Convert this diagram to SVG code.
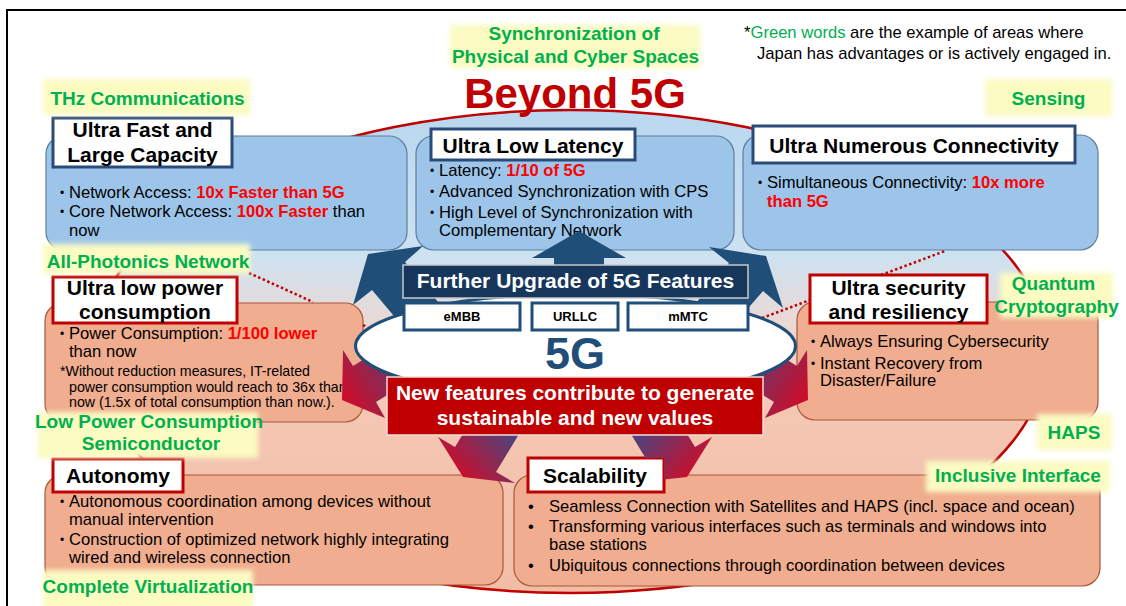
<svg xmlns="http://www.w3.org/2000/svg" width="1126" height="606" viewBox="0 0 1126 606">
<defs>
<linearGradient id="bg" x1="0" y1="0" x2="0" y2="1">
<stop offset="0" stop-color="#b9d7ef"/>
<stop offset="0.3" stop-color="#cde2f1"/>
<stop offset="0.45" stop-color="#ecd8d2"/>
<stop offset="0.62" stop-color="#f4c7b4"/>
<stop offset="1" stop-color="#f2bda5"/>
</linearGradient>
<linearGradient id="gUL" gradientUnits="userSpaceOnUse" x1="425" y1="340" x2="345" y2="392"><stop offset="0" stop-color="#2f4f8f"/><stop offset="1" stop-color="#c8102e"/></linearGradient>
<linearGradient id="gUR" gradientUnits="userSpaceOnUse" x1="725" y1="340" x2="805" y2="392"><stop offset="0" stop-color="#2f4f8f"/><stop offset="1" stop-color="#c8102e"/></linearGradient>
<linearGradient id="gLL" gradientUnits="userSpaceOnUse" x1="520" y1="420" x2="462" y2="476"><stop offset="0" stop-color="#2f4f8f"/><stop offset="1" stop-color="#c8102e"/></linearGradient>
<linearGradient id="gLR" gradientUnits="userSpaceOnUse" x1="630" y1="420" x2="688" y2="476"><stop offset="0" stop-color="#2f4f8f"/><stop offset="1" stop-color="#c8102e"/></linearGradient>
<filter id="glow" x="-20%" y="-40%" width="140%" height="180%"><feGaussianBlur stdDeviation="2.5"/></filter>
<style>
text{font-family:"Liberation Sans",Arial,sans-serif}
.t{font-size:21px;font-weight:bold;fill:#000;text-anchor:middle}
.ts{font-size:21px;font-weight:bold;fill:#000}
.b{font-size:16.6px;fill:#000}
.s{font-size:14.2px;fill:#000}
.bu{font-size:12px;fill:#000}
.r{font-weight:bold;fill:#ff0000}
.g{font-size:19px;font-weight:bold;fill:#00b050;text-anchor:middle}
.hl{fill:#fbfbc2;filter:url(#glow)}
.blue{fill:#9cc5e9;stroke:#5f7e9e;stroke-width:1.2}
.peach{fill:#f0ad8f;stroke:#a9573a;stroke-width:1.2}
.tb{fill:#fff;stroke:#2b4a78;stroke-width:3}
.tr{fill:#fff;stroke:#c00000;stroke-width:3}
.dot{fill:none;stroke:#c00000;stroke-width:2.5;stroke-dasharray:2.5 2.5}
.barrow{fill:#1f4e79}
.sm{fill:#fff;stroke:#1f4e79;stroke-width:3}
.smt{font-size:13px;font-weight:bold;fill:#000;text-anchor:middle}
</style>
</defs>
<rect width="1126" height="606" fill="#fff"/>
<rect x="7" y="10" width="1130" height="610" fill="none" stroke="#000" stroke-width="2"/>

<g id="beyond5g-area">
<ellipse cx="570" cy="351.5" rx="477" ry="241.5" fill="url(#bg)" stroke="#c00000" stroke-width="2.5"/>
<text x="575" y="108" font-size="42" font-weight="bold" fill="#c00000" text-anchor="middle">Beyond 5G</text>
</g>

<g id="note">
<text x="744" y="38" font-size="16.6">*<tspan fill="#00b050">Green words</tspan> are the example of areas where</text>
<text x="757" y="59" font-size="16.6">Japan has advantages or is actively engaged in.</text>
</g>

<g id="node-ultra-fast">
<rect class="blue" x="46" y="136" width="361" height="114" rx="18"/>
<rect class="tb" x="53" y="118" width="179" height="49"/>
<text class="t" x="142.5" y="137">Ultra Fast and</text>
<text class="t" x="142.5" y="162">Large Capacity</text>
<text class="bu" x="60" y="197">•</text>
<text class="b" x="69" y="198">Network Access: <tspan class="r">10x Faster than 5G</tspan></text>
<text class="bu" x="60" y="216">•</text>
<text class="b" x="69" y="217">Core Network Access: <tspan class="r">100x Faster</tspan> than</text>
<text class="b" x="69" y="236">now</text>
</g>

<g id="node-ultra-low-latency">
<rect class="blue" x="416" y="136" width="318" height="114" rx="18"/>
<rect class="tb" x="431" y="129" width="204" height="31"/>
<text class="t" x="533" y="153">Ultra Low Latency</text>
<text class="bu" x="430" y="175">•</text>
<text class="b" x="439" y="176">Latency: <tspan class="r">1/10 of 5G</tspan></text>
<text class="bu" x="430" y="196">•</text>
<text class="b" x="439" y="197">Advanced Synchronization with CPS</text>
<text class="bu" x="430" y="217">•</text>
<text class="b" x="439" y="218">High Level of Synchronization with</text>
<text class="b" x="439" y="236">Complementary Network</text>
</g>

<g id="node-ultra-numerous">
<rect class="blue" x="743" y="135" width="355" height="115" rx="18"/>
<rect class="tb" x="753" y="126" width="322" height="37"/>
<text class="t" x="914" y="153">Ultra Numerous Connectivity</text>
<text class="bu" x="758" y="187">•</text>
<text class="b" x="767" y="188">Simultaneous Connectivity: <tspan class="r">10x more</tspan></text>
<text class="b r" x="767" y="207">than 5G</text>
</g>

<g id="node-low-power">
<rect class="peach" x="45" y="303" width="318" height="119" rx="18"/>
<rect class="tr" x="53" y="277" width="184" height="46"/>
<text class="t" x="145" y="295">Ultra low power</text>
<text class="t" x="145" y="319">consumption</text>
<text class="bu" x="60" y="338">•</text>
<text class="b" x="69" y="339">Power Consumption: <tspan class="r">1/100 lower</tspan></text>
<text class="b" x="69" y="357">than now</text>
<text class="s" x="60" y="376">*Without reduction measures, IT-related</text>
<text class="s" x="69" y="392">power consumption would reach to 36x than</text>
<text class="s" x="69" y="407">now (1.5x of total consumption than now.).</text>
</g>

<g id="node-security">
<rect class="peach" x="797" y="302" width="301" height="118" rx="18"/>
<rect class="tr" x="810" y="275" width="177" height="48"/>
<text class="t" x="898.5" y="295">Ultra security</text>
<text class="t" x="898.5" y="319">and resiliency</text>
<text class="bu" x="811" y="346">•</text>
<text class="b" x="820" y="347">Always Ensuring Cybersecurity</text>
<text class="bu" x="811" y="368">•</text>
<text class="b" x="820" y="369">Instant Recovery from</text>
<text class="b" x="820" y="386">Disaster/Failure</text>
</g>

<g id="node-autonomy">
<rect class="peach" x="45" y="475" width="458" height="110" rx="18"/>
<rect class="tr" x="53" y="459" width="130" height="33"/>
<text class="ts" x="66" y="483">Autonomy</text>
<text class="bu" x="60" y="506">•</text>
<text class="b" x="69" y="507">Autonomous coordination among devices without</text>
<text class="b" x="69" y="525">manual intervention</text>
<text class="bu" x="60" y="544">•</text>
<text class="b" x="69" y="545">Construction of optimized network highly integrating</text>
<text class="b" x="69" y="563">wired and wireless connection</text>
</g>

<g id="node-scalability">
<rect class="peach" x="514" y="475" width="586" height="111" rx="18"/>
<rect class="tr" x="528" y="458" width="136" height="34"/>
<text class="ts" x="543" y="483">Scalability</text>
<text class="b" x="528" y="512">•</text>
<text class="b" x="549" y="512">Seamless Connection with Satellites and HAPS (incl. space and ocean)</text>
<text class="b" x="528" y="532">•</text>
<text class="b" x="549" y="532">Transforming various interfaces such as terminals and windows into</text>
<text class="b" x="549" y="550">base stations</text>
<text class="b" x="528" y="571">•</text>
<text class="b" x="549" y="571">Ubiquitous connections through coordination between devices</text>
</g>

<g id="connectors">
<path class="dot" d="M249,273 L313,302 M363,325 L366,326.5"/>
<path class="dot" d="M762,318 L810,300 M881,275 L945,251"/>
<polygon class="barrow" points="368,254 423,246 405,262 443,308 410,335 372,290 353,305"/>
<polygon class="barrow" points="766,256 709,247 729,263 691,309 724,336 763,291 783,308"/>
<polygon class="barrow" points="579,231 626,258 604,258 604,300 554,300 554,258 532,258"/>
<polygon fill="url(#gUL)" points="342,400 343,350 353,366 421,324 444,360 376,402 385,418"/>
<polygon fill="url(#gUR)" points="808,400 807,350 797,366 729,324 706,360 774,402 765,418"/>
<polygon fill="url(#gLL)" points="463,477 438,437 455,447 486,396 527,421 496,472 515,483"/>
<polygon fill="url(#gLR)" points="687,477 664,479.6 664,458 645.5,458 623,421 664,396 695,447 712,437"/>
</g>

<g id="node-5g">
<ellipse cx="575.5" cy="346" rx="220" ry="52" fill="#fff" stroke="#1f4e79" stroke-width="3"/>
<rect x="403" y="265" width="345" height="33" fill="#16365c" stroke="#c9c9c9" stroke-width="1.5"/>
<text x="575.5" y="288" font-size="21" font-weight="bold" fill="#fff" text-anchor="middle">Further Upgrade of 5G Features</text>
<rect class="sm" x="404" y="303" width="116" height="27"/>
<text class="smt" x="462" y="321">eMBB</text>
<rect class="sm" x="532" y="303" width="86" height="27"/>
<text class="smt" x="575" y="321">URLLC</text>
<rect class="sm" x="628" y="303" width="120" height="27"/>
<text class="smt" x="688" y="321">mMTC</text>
<text x="575" y="369" font-size="45" font-weight="bold" fill="#1f4e79" text-anchor="middle">5G</text>
<rect x="387" y="377" width="376" height="58" fill="#c00000" stroke="#f2dcdb" stroke-width="1.5"/>
<text x="575" y="400" font-size="21" font-weight="bold" fill="#fff" text-anchor="middle">New features contribute to generate</text>
<text x="575" y="425" font-size="21" font-weight="bold" fill="#fff" text-anchor="middle">sustainable and new values</text>
</g>

<g id="label-sync">
<rect class="hl" x="450" y="25" width="250" height="43"/>
<text class="g" x="574" y="40">Synchronization of</text>
<text class="g" x="575.5" y="63">Physical and Cyber Spaces</text>
</g>
<g id="label-thz">
<rect class="hl" x="43" y="79" width="207" height="36"/>
<text class="g" x="147.5" y="105">THz Communications</text>
</g>
<g id="label-sensing">
<rect class="hl" x="985" y="79" width="127" height="37"/>
<text class="g" x="1048.5" y="105">Sensing</text>
</g>
<g id="label-photonics">
<rect class="hl" x="43" y="244" width="207" height="30"/>
<text class="g" x="148" y="268">All-Photonics Network</text>
</g>
<g id="label-lowpower">
<rect class="hl" x="38" y="412" width="220" height="46"/>
<text class="g" x="149" y="428">Low Power Consumption</text>
<text class="g" x="151" y="450">Semiconductor</text>
</g>
<g id="label-quantum">
<rect class="hl" x="1000" y="273" width="113" height="45"/>
<text class="g" x="1053.5" y="290">Quantum</text>
<text class="g" x="1056.5" y="313">Cryptography</text>
</g>
<g id="label-haps">
<rect class="hl" x="1037" y="414" width="75" height="36"/>
<text class="g" x="1074" y="439">HAPS</text>
</g>
<g id="label-inclusive">
<rect class="hl" x="926" y="461" width="184" height="31"/>
<text class="g" x="1018" y="482">Inclusive Interface</text>
</g>
<g id="label-virtualization">
<rect class="hl" x="43" y="570" width="210" height="40"/>
<text class="g" x="148" y="593">Complete Virtualization</text>
</g>
</svg>
